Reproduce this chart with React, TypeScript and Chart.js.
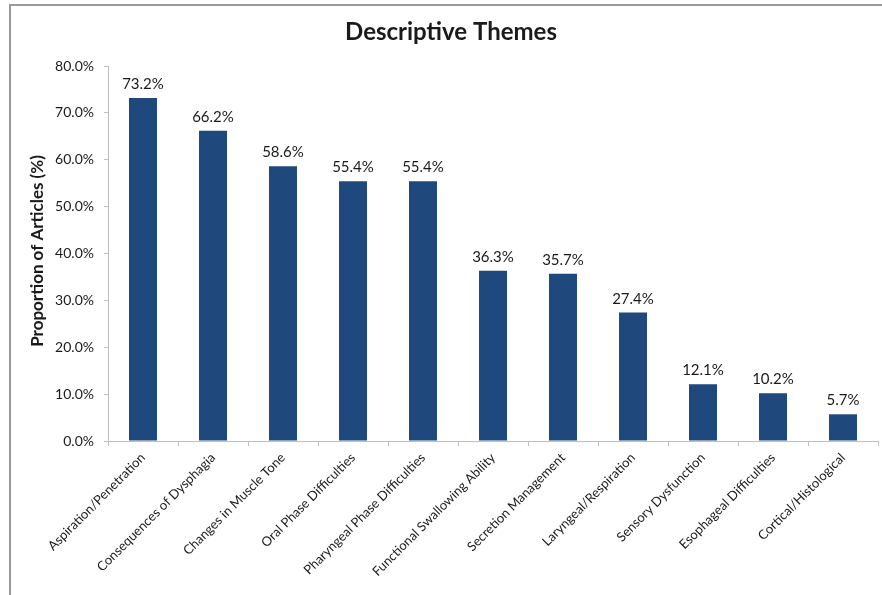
import { useEffect, useRef } from "react";
import { Chart, registerables } from "chart.js";

Chart.register(...registerables);

const categories = [
  "Aspiration/Penetration",
  "Consequences of Dysphagia",
  "Changes in Muscle Tone",
  "Oral Phase Difficulties",
  "Pharyngeal Phase Difficulties",
  "Functional Swallowing Ability",
  "Secretion Management",
  "Laryngeal/Respiration",
  "Sensory Dysfunction",
  "Esophageal Difficulties",
  "Cortical/Histological",
];
const values = [73.2, 66.2, 58.6, 55.4, 55.4, 36.3, 35.7, 27.4, 12.1, 10.2, 5.7];
const chartTitle = "Descriptive Themes";
const yAxisTitle = "Proportion of Articles (%)";
const yMin = 0;
const yMax = 80;
const yStep = 10;

const FONT = "Lato, 'Open Sans', sans-serif";
const BAR = "#1F497D";
const AXIS = "#BFBFBF";
const TEXT = "#1a1a1a";

export default function App() {
  const ref = useRef<HTMLCanvasElement>(null);
  useEffect(() => {
    document.body.style.margin = "0";
    const decor = {
      id: "decor",
      beforeDraw(chart: any) {
        const ctx = chart.ctx;
        ctx.save();
        ctx.fillStyle = "#ffffff";
        ctx.fillRect(0, 0, chart.width, chart.height);
        ctx.strokeStyle = "#9a9a9a";
        ctx.lineWidth = 2;
        ctx.beginPath();
        ctx.moveTo(10, chart.height);
        ctx.lineTo(10, 5);
        ctx.lineTo(chart.width, 5);
        ctx.stroke();
        ctx.restore();
      },
      afterDraw(chart: any) {
        const ctx = chart.ctx;
        ctx.save();
        ctx.fillStyle = TEXT;
        ctx.textAlign = "center";
        ctx.textBaseline = "middle";
        ctx.font = `bold 24px ${FONT}`;
        ctx.fillText(chartTitle, 451, 32);
        ctx.translate(38, 251);
        ctx.rotate(-Math.PI / 2);
        ctx.font = `bold 17px ${FONT}`;
        ctx.fillText(yAxisTitle, 0, 0);
        ctx.restore();
      },
      afterDatasetsDraw(chart: any) {
        const ctx = chart.ctx;
        const meta = chart.getDatasetMeta(0);
        ctx.save();
        ctx.fillStyle = TEXT;
        ctx.textAlign = "center";
        ctx.textBaseline = "alphabetic";
        ctx.font = `15px ${FONT}`;
        meta.data.forEach((el: any, i: number) => {
          ctx.fillText(values[i].toFixed(1) + "%", el.x, el.y - 9);
        });
        ctx.restore();
      },
    };
    const chart = new Chart(ref.current!, {
      type: "bar",
      data: {
        labels: categories,
        datasets: [
          {
            data: values,
            backgroundColor: BAR,
            borderWidth: 0,
            categoryPercentage: 1,
            barPercentage: 0.4,
          },
        ],
      },
      options: {
        responsive: false,
        animation: false,
        layout: { padding: { top: 66, right: 4, left: 0, bottom: 0 } },
        plugins: {
          legend: { display: false },
          title: { display: false },
          tooltip: { enabled: false },
        },
        scales: {
          x: {
            offset: true,
            grid: {
              offset: true,
              drawOnChartArea: false,
              drawTicks: true,
              tickLength: 5,
              color: AXIS,
            },
            border: { display: true, color: AXIS },
            ticks: {
              color: TEXT,
              font: { family: FONT, size: 13 },
              minRotation: 45,
              maxRotation: 45,
              autoSkip: false,
              padding: 4,
            },
            afterFit(scale: any) {
              scale.height = 154;
            },
          },
          y: {
            min: yMin,
            max: yMax,
            grid: {
              drawOnChartArea: false,
              drawTicks: true,
              tickLength: 4,
              color: AXIS,
            },
            border: { display: true, color: AXIS },
            ticks: {
              stepSize: yStep,
              color: TEXT,
              font: { family: FONT, size: 14 },
              padding: 10,
              callback: (v: any) => Number(v).toFixed(1) + "%",
            },
            afterFit(scale: any) {
              scale.width = 108;
            },
          },
        },
      },
      plugins: [decor],
    });
    return () => chart.destroy();
  }, []);
  return (
    <div style={{ width: 882, height: 595 }}>
      <canvas ref={ref} width={882} height={595} style={{ display: "block" }} />
    </div>
  );
}
